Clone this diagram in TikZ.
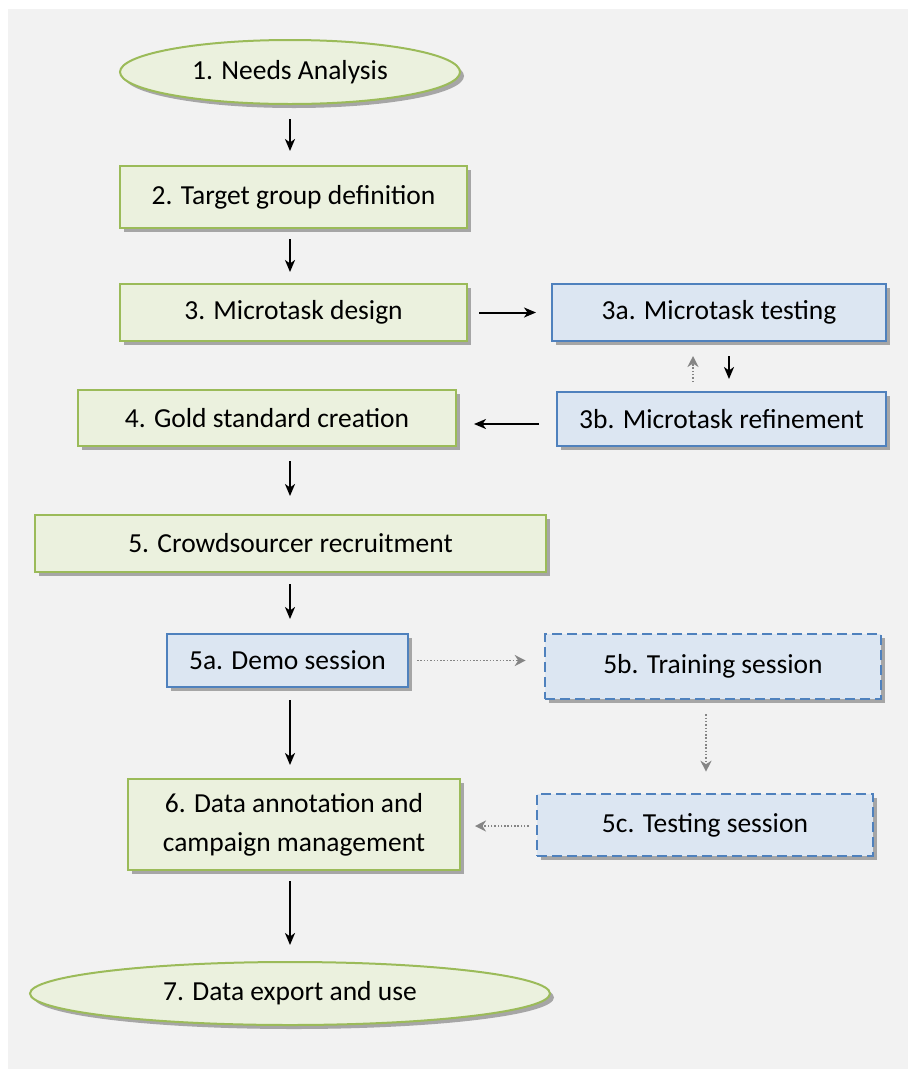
\documentclass[tikz,border=0pt]{standalone}
\usepackage{fontspec}
\setmainfont{Carlito}
\usetikzlibrary{arrows.meta,shapes.geometric,shadows}
\definecolor{panel}{HTML}{F2F2F2}
\definecolor{gfill}{HTML}{EBF1DE}
\definecolor{gline}{HTML}{9BBB59}
\definecolor{bfill}{HTML}{DCE6F2}
\definecolor{bline}{HTML}{4F81BD}
\definecolor{dotgray}{HTML}{858585}
\definecolor{shadowgray}{HTML}{A6A6A6}
\tikzset{
  shd/.style={drop shadow={shadow xshift=4pt,shadow yshift=-4pt,fill=shadowgray,opacity=1}},
  txt/.style={font=\fontsize{27.5}{39}\selectfont,align=center,inner sep=0pt,text=black},
  greenbox/.style={txt,shd,rectangle,draw=gline,fill=gfill,line width=2pt},
  bluebox/.style={txt,shd,rectangle,draw=bline,fill=bfill,line width=2pt},
  dashbox/.style={txt,shd,rectangle,draw=bline,fill=bfill,line width=2.6pt,dash pattern=on 10pt off 5pt},
  greenell/.style={txt,shd,ellipse,draw=gline,fill=gfill,line width=2pt},
  flow/.style={draw=black,line width=2pt,-{Stealth[length=12pt,width=10pt,inset=3.5pt]}},
  dotflow/.style={draw=dotgray,line width=1.7pt,dash pattern=on 1.5pt off 1.8pt,-{Stealth[length=11pt,width=11pt,inset=3.5pt]}},
}
\begin{document}
\begin{tikzpicture}[x=1pt,y=-1pt]
\useasboundingbox (0,0) rectangle (908,1069);
\fill[white] (0,0) rectangle (908,1069);
\fill[panel] (8,9) rectangle (908,1069);

\node[greenell,minimum width=340,minimum height=64] (n1) at (290,72) {1. Needs Analysis};
\node[greenbox,minimum width=347,minimum height=62] (n2) at (293.5,197) {2. Target group definition};
\node[greenbox,minimum width=347,minimum height=57] (n3) at (293.5,312.5) {3. Microtask design};
\node[bluebox,minimum width=334,minimum height=57] (n3a) at (719,312.5) {3a. Microtask testing};
\node[bluebox,minimum width=329,minimum height=54] (n3b) at (721.5,419) {3b. Microtask refinement};
\node[greenbox,minimum width=378,minimum height=56] (n4) at (267,418) {4. Gold standard creation};
\node[greenbox,minimum width=511,minimum height=57] (n5) at (290.5,543.5) {5. Crowdsourcer recruitment};
\node[bluebox,minimum width=241,minimum height=53] (n5a) at (287.5,660.5) {5a. Demo session};
\node[dashbox,minimum width=336,minimum height=65] (n5b) at (713,666.5) {\raisebox{4pt}{5b. Training session}};
\node[dashbox,minimum width=336,minimum height=62] (n5c) at (705,825) {5c. Testing session};
\node[greenbox,minimum width=332,minimum height=91] (n6) at (294,824.5) {6. Data annotation and\\campaign management};
\node[greenell,minimum width=520,minimum height=63] (n7) at (290,993.5) {7. Data export and use};

\draw[flow,shorten <=14pt,shorten >=14pt] (n1.south) -- (n2.north -| n1.south);
\draw[flow,shorten <=10pt,shorten >=11pt] (n2.south -| n1.south) -- (n3.north -| n1.south);
\draw[flow,shorten <=11pt,shorten >=15pt] (n3.east) -- (n3a.west);
\draw[flow,shorten <=14pt,shorten >=12pt] ([xshift=10pt]n3a.south) -- ([xshift=7.5pt]n3b.north);
\draw[dotflow,shorten <=9pt,shorten >=14pt] ([xshift=-28.5pt]n3b.north) -- ([xshift=-26pt]n3a.south);
\draw[flow,shorten <=17pt,shorten >=17pt] ([yshift=-5pt]n3b.west) -- ([yshift=-6pt]n4.east);
\draw[flow,shorten <=14pt,shorten >=18pt] (n4.south -| n1.south) -- (n5.north -| n1.south);
\draw[flow,shorten <=11pt,shorten >=14pt] (n5.south -| n1.south) -- (n5a.north -| n1.south);
\draw[flow,shorten <=12pt,shorten >=13pt] (n5a.south -| n1.south) -- (n6.north -| n1.south);
\draw[dotflow,shorten <=8pt,shorten >=18pt] (n5a.east) -- (n5a.east -| n5b.west);
\draw[dotflow,shorten <=14pt,shorten >=21pt] ([xshift=-7pt]n5b.south) -- ([xshift=1pt]n5c.north);
\draw[dotflow,shorten <=7pt,shorten >=14pt] ([yshift=-1pt]n5c.west) -- ([yshift=-1pt]n5c.west -| n6.east);
\draw[flow,shorten <=10pt,shorten >=16pt] (n6.south -| n1.south) -- (n7.north -| n1.south);
\end{tikzpicture}
\end{document}
